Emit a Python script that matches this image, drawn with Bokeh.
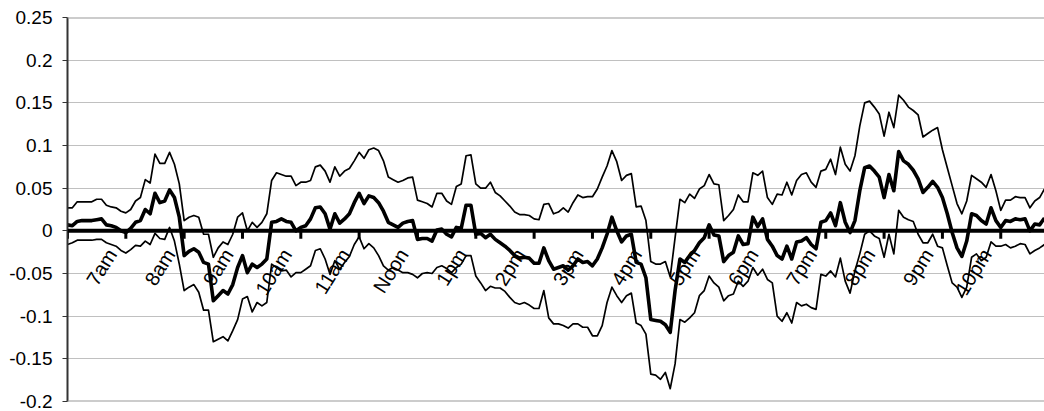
import math
from bokeh.plotting import figure
from bokeh.models import Span, FixedTicker, ColumnDataSource
from bokeh.core.properties import value
from bokeh.embed import file_html
from bokeh.resources import INLINE

# 5-minute steps starting at 6:00am
upper = [
    0.027, 0.027, 0.034, 0.034, 0.034, 0.034, 0.037, 0.037, 0.030, 0.028,
    0.027, 0.023, 0.021, 0.025, 0.035, 0.039, 0.060, 0.056, 0.090, 0.079,
    0.079, 0.092, 0.078, 0.055, 0.012, 0.016, 0.018, 0.016, -0.004, -0.004,
    -0.031, -0.020, -0.013, -0.016, -0.004, 0.016, 0.021, 0.000, 0.010, 0.004,
    0.010, 0.020, 0.059, 0.068, 0.066, 0.064, 0.064, 0.053, 0.057, 0.057,
    0.059, 0.075, 0.077, 0.070, 0.057, 0.075, 0.064, 0.070, 0.073, 0.082,
    0.092, 0.085, 0.095, 0.097, 0.094, 0.082, 0.063, 0.060, 0.057, 0.059,
    0.062, 0.063, 0.036, 0.034, 0.032, 0.028, 0.044, 0.044, 0.035, 0.031,
    0.052, 0.055, 0.088, 0.089, 0.055, 0.050, 0.050, 0.057, 0.045, 0.041,
    0.035, 0.029, 0.022, 0.019, 0.019, 0.018, 0.014, 0.013, 0.031, 0.032,
    0.020, 0.022, 0.027, 0.022, 0.033, 0.042, 0.039, 0.040, 0.040, 0.049,
    0.063, 0.076, 0.094, 0.081, 0.059, 0.065, 0.067, 0.028, 0.029, 0.012,
    -0.036, -0.039, -0.039, -0.036, -0.054, -0.008, 0.037, 0.033, 0.043, 0.038,
    0.049, 0.053, 0.066, 0.055, 0.054, 0.012, 0.018, 0.025, 0.042, 0.034,
    0.034, 0.068, 0.065, 0.070, 0.039, 0.031, 0.043, 0.042, 0.057, 0.042,
    0.059, 0.066, 0.068, 0.057, 0.051, 0.070, 0.072, 0.084, 0.066, 0.098,
    0.078, 0.070, 0.088, 0.123, 0.150, 0.152, 0.145, 0.137, 0.111, 0.139,
    0.121, 0.159, 0.153, 0.145, 0.141, 0.136, 0.110, 0.114, 0.118, 0.121,
    0.095, 0.074, 0.053, 0.032, 0.020, 0.035, 0.065, 0.061, 0.057, 0.051,
    0.066, 0.047, 0.024, 0.036, 0.036, 0.040, 0.039, 0.039, 0.027, 0.035,
    0.039, 0.049,
]

mean = [
    0.007, 0.006, 0.011, 0.012, 0.012, 0.012, 0.013, 0.014, 0.007, 0.006,
    0.004, 0.000, -0.002, 0.003, 0.010, 0.012, 0.025, 0.020, 0.044, 0.033,
    0.035, 0.048, 0.039, 0.016, -0.029, -0.024, -0.021, -0.025, -0.037, -0.039,
    -0.082, -0.076, -0.070, -0.074, -0.063, -0.043, -0.029, -0.049, -0.039, -0.043,
    -0.039, -0.033, 0.010, 0.011, 0.014, 0.011, 0.010, 0.000, 0.004, 0.006,
    0.014, 0.027, 0.028, 0.020, 0.002, 0.020, 0.009, 0.014, 0.020, 0.033,
    0.044, 0.032, 0.041, 0.039, 0.033, 0.023, 0.010, 0.007, 0.004, 0.009,
    0.011, 0.012, -0.010, -0.009, -0.009, -0.012, 0.001, 0.002, -0.004, -0.007,
    0.004, 0.003, 0.030, 0.030, -0.004, -0.003, -0.008, -0.004, -0.010, -0.014,
    -0.018, -0.023, -0.029, -0.032, -0.031, -0.032, -0.038, -0.038, -0.020, -0.035,
    -0.045, -0.043, -0.041, -0.046, -0.041, -0.033, -0.037, -0.036, -0.041, -0.033,
    -0.020, -0.004, 0.016, 0.000, -0.013, -0.006, -0.004, -0.037, -0.039, -0.055,
    -0.104, -0.105, -0.106, -0.110, -0.119, -0.070, -0.033, -0.037, -0.029, -0.023,
    -0.014, -0.008, 0.007, -0.005, -0.006, -0.036, -0.029, -0.025, -0.006, -0.016,
    -0.015, 0.016, 0.005, 0.014, -0.010, -0.018, -0.029, -0.033, -0.018, -0.033,
    -0.013, -0.012, -0.008, -0.016, -0.021, 0.010, 0.012, 0.021, 0.006, 0.033,
    0.010, -0.002, 0.012, 0.047, 0.074, 0.076, 0.070, 0.063, 0.039, 0.066,
    0.047, 0.093, 0.082, 0.078, 0.071, 0.061, 0.045, 0.051, 0.058, 0.051,
    0.039, 0.020, -0.002, -0.020, -0.030, -0.012, 0.020, 0.018, 0.012, 0.008,
    0.027, 0.012, 0.004, 0.012, 0.011, 0.014, 0.013, 0.014, 0.000, 0.008,
    0.007, 0.015,
]

lower = [
    -0.016, -0.014, -0.011, -0.011, -0.011, -0.011, -0.010, -0.010, -0.014, -0.016,
    -0.018, -0.023, -0.026, -0.022, -0.017, -0.018, -0.012, -0.016, -0.003, -0.009,
    -0.010, 0.004, -0.012, -0.039, -0.070, -0.066, -0.063, -0.072, -0.093, -0.093,
    -0.130, -0.127, -0.124, -0.129, -0.117, -0.104, -0.080, -0.077, -0.095, -0.084,
    -0.088, -0.084, -0.039, -0.043, -0.047, -0.046, -0.054, -0.049, -0.049, -0.045,
    -0.041, -0.023, -0.021, -0.033, -0.051, -0.035, -0.045, -0.037, -0.030, -0.016,
    -0.007, -0.021, -0.015, -0.020, -0.029, -0.041, -0.046, -0.043, -0.046, -0.049,
    -0.049, -0.051, -0.055, -0.050, -0.049, -0.050, -0.043, -0.041, -0.044, -0.049,
    -0.043, -0.039, -0.029, -0.029, -0.053, -0.061, -0.070, -0.065, -0.067, -0.067,
    -0.071, -0.078, -0.084, -0.086, -0.084, -0.087, -0.091, -0.091, -0.070, -0.102,
    -0.109, -0.109, -0.111, -0.114, -0.109, -0.109, -0.113, -0.113, -0.123, -0.123,
    -0.111, -0.084, -0.066, -0.076, -0.084, -0.076, -0.073, -0.108, -0.111, -0.121,
    -0.168, -0.169, -0.174, -0.166, -0.185, -0.156, -0.104, -0.107, -0.102, -0.096,
    -0.076, -0.070, -0.053, -0.061, -0.066, -0.082, -0.076, -0.074, -0.059, -0.065,
    -0.059, -0.043, -0.052, -0.045, -0.057, -0.061, -0.100, -0.106, -0.096, -0.108,
    -0.084, -0.088, -0.086, -0.090, -0.092, -0.051, -0.053, -0.047, -0.054, -0.032,
    -0.059, -0.073, -0.047, -0.027, -0.004, 0.000, -0.006, -0.009, -0.031, -0.004,
    -0.027, 0.024, 0.016, 0.013, 0.011, -0.004, -0.014, -0.014, -0.004, -0.018,
    -0.020, -0.041, -0.061, -0.066, -0.078, -0.066, -0.031, -0.027, -0.035, -0.031,
    -0.013, -0.018, -0.018, -0.016, -0.020, -0.018, -0.015, -0.016, -0.027, -0.023,
    -0.020, -0.016,
]

hour_ticks = [0, 12, 24, 36, 48, 60, 72, 84, 96, 108, 120, 132, 144, 156, 168, 180, 192]
hour_labels = ["7am", "8am", "9am", "10am", "11am", "Noon", "1pm", "2pm", "3pm",
               "4pm", "5pm", "6pm", "7pm", "8pm", "9pm", "10pm"]
y_ticks = [-0.2, -0.15, -0.1, -0.05, 0, 0.05, 0.1, 0.15, 0.2, 0.25]
y_labels = ["-0.2", "-0.15", "-0.1", "-0.05", "0", "0.05", "0.1", "0.15", "0.2", "0.25"]

step = list(range(len(mean)))

p = figure(width=1044, height=411, x_range=(0, 201), y_range=(-0.2, 0.25),
           output_backend="svg", toolbar_location=None,
           min_border_left=67, min_border_right=0, min_border_top=17, min_border_bottom=10)
p.outline_line_color = None
p.background_fill_color = "white"
p.xaxis.visible = False
p.xgrid.visible = False

p.yaxis.ticker = FixedTicker(ticks=y_ticks)
p.yaxis.major_label_overrides = {t: l for t, l in zip(y_ticks, y_labels)}
p.yaxis.major_tick_out = 5
p.yaxis.major_tick_in = 0
p.yaxis.minor_tick_out = 0
p.yaxis.minor_tick_in = 0
p.yaxis.major_label_standoff = 10
p.yaxis.axis_line_color = "#333333"
p.yaxis.axis_line_width = 2
p.yaxis.major_tick_line_color = "#333333"
p.yaxis.major_label_text_font = "Liberation Sans"
p.yaxis.major_label_text_font_size = "19px"
p.yaxis.major_label_text_color = "black"

p.ygrid.ticker = FixedTicker(ticks=[t for t in y_ticks if -0.2 < t < 0.25])
p.ygrid.grid_line_color = "#808080"
p.ygrid.grid_line_dash = "1 1"
p.ygrid.grid_line_width = 1

p.add_layout(Span(location=y_ticks[-1], dimension="width", line_color="#9a9a9a", line_width=2))
p.add_layout(Span(location=y_ticks[0], dimension="width", line_color="#9a9a9a", line_width=2))

p.line(step, upper, line_color="black", line_width=1.7, line_join="round")
p.line(step, lower, line_color="black", line_width=1.7, line_join="round")
p.line(step, mean, line_color="black", line_width=3.6, line_join="round")

p.add_layout(Span(location=0, dimension="width", line_color="black", line_width=4))
p.segment(x0=hour_ticks, y0=0, x1=hour_ticks, y1=-0.0094, line_color="black", line_width=3)

lab = ColumnDataSource(dict(x=hour_ticks[1:], t=hour_labels))
p.text(x="x", y=-0.0231, text="t", source=lab, angle=math.radians(58),
       text_align="right", text_baseline="middle", x_offset=-14,
       text_font=value("Liberation Sans"), text_font_size=value("20px"), text_color="black")

open("out.html", "w").write(file_html(p, INLINE))
